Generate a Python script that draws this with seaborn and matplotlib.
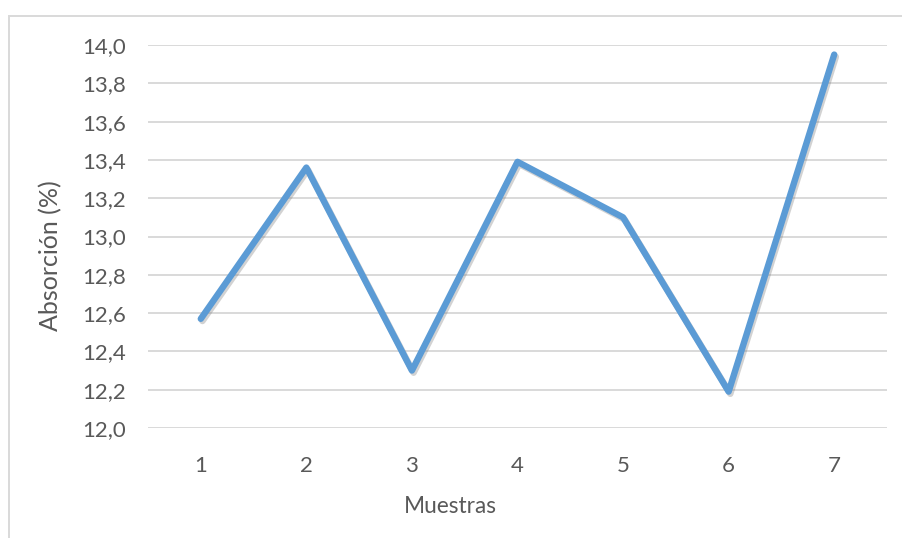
import matplotlib
matplotlib.use("Agg")
import matplotlib.pyplot as plt
import matplotlib.patheffects as pe
from matplotlib.patches import Rectangle
import seaborn as sns
import pandas as pd

# Absorption per sample
muestras = [1, 2, 3, 4, 5, 6, 7]
absorcion = [12.57, 13.36, 12.30, 13.39, 13.10, 12.19, 13.95]
yticks = [12.0, 12.2, 12.4, 12.6, 12.8, 13.0, 13.2, 13.4, 13.6, 13.8, 14.0]

df = pd.DataFrame({"Muestras": muestras, "Absorción (%)": absorcion})

sns.set_theme(style="white")
plt.rcParams["font.family"] = ["Lato", "DejaVu Sans"]

W, H = 902, 538
fig = plt.figure(figsize=(W / 100, H / 100), dpi=100)
fig.patch.set_facecolor("white")

# chart frame
fig.add_artist(Rectangle((8.5 / W, -0.1), 1.2, 1 - 15.5 / H + 0.1,
                         transform=fig.transFigure, fill=False,
                         edgecolor="#d9d9d9", linewidth=1.4))

ax = fig.add_axes([148 / W, 1 - 428 / H, (887 - 148) / W, (428 - 45) / H])
ax.set_facecolor("none")

text_color = "#595959"
grid_color = "#d9d9d9"

for y in yticks:
    ax.axhline(y, color=grid_color, linewidth=1.4, zorder=0)

sns.lineplot(data=df, x="Muestras", y="Absorción (%)", ax=ax,
             color="#5B9BD5", linewidth=4.6, zorder=3,
             solid_capstyle="round", solid_joinstyle="round")
ax.lines[-1].set_path_effects([
    pe.SimpleLineShadow(offset=(1.2, -1.6), shadow_color="#7f7f7f", alpha=0.35),
    pe.Normal(),
])

ax.set_xlim(0.5, 7.5)
ax.set_ylim(12.0, 14.0)
ax.set_xticks(muestras)
ax.set_xticklabels([str(m) for m in muestras])
ax.set_yticks(yticks)
ax.set_yticklabels([f"{v:.1f}".replace(".", ",") for v in yticks])

for s in ax.spines.values():
    s.set_visible(False)
ax.tick_params(axis="both", length=0, colors=text_color, labelsize=16)
ax.tick_params(axis="y", pad=16)
ax.tick_params(axis="x", pad=20)

ax.set_xlabel("")
ax.set_ylabel("")
fig.text(450 / W, 1 - 513 / H, "Muestras", fontsize=16.3, color=text_color,
         ha="center", va="baseline")
fig.text(51 / W, 1 - 256 / H, "Absorción (%)", fontsize=18, color=text_color,
         ha="center", va="center", rotation=90)

fig.savefig("out.png", dpi=100, facecolor="white")
